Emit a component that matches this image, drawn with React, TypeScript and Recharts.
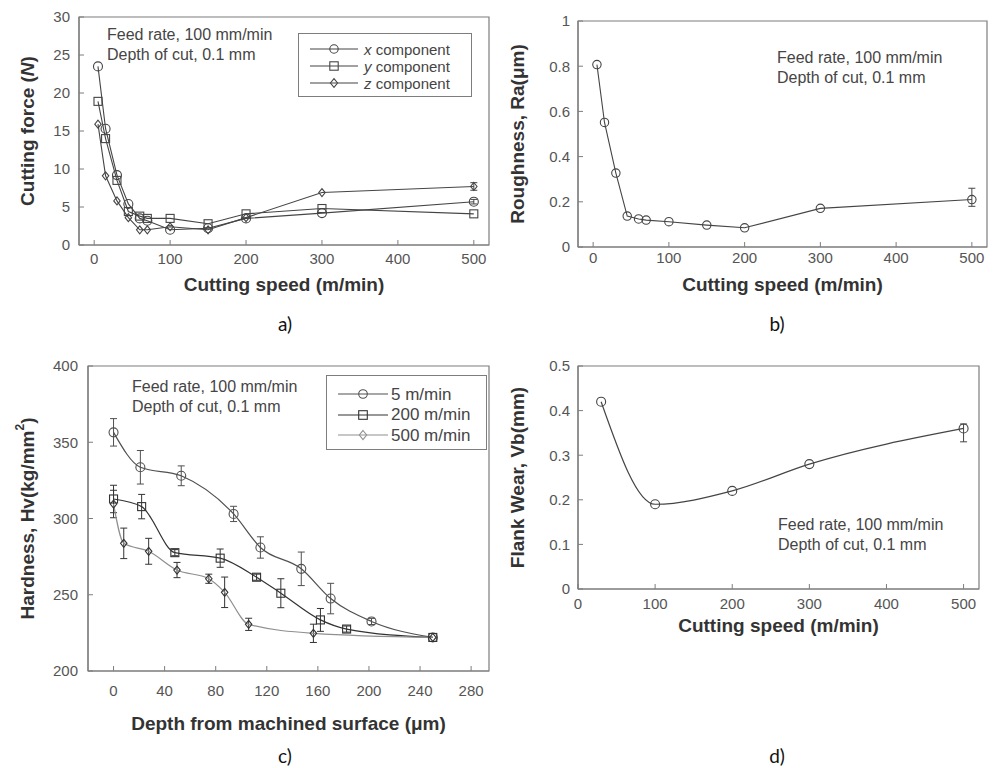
import React from "react";
import { LineChart, Line, XAxis, YAxis, ErrorBar, ReferenceArea, Legend, Label } from "recharts";

// a) cutting force vs cutting speed
const speeds = [5, 15, 30, 45, 60, 70, 100, 150, 200, 300, 500];
const forceX = [23.5, 15.3, 9.2, 5.4, 3.5, 3.2, 2.0, 2.2, 3.5, 4.2, 5.7];
const forceY = [18.9, 14.0, 8.5, 4.4, 3.8, 3.5, 3.5, 2.8, 4.1, 4.8, 4.1];
const forceZ = [15.9, 9.1, 5.8, 3.6, 2.0, 2.0, 2.4, 2.0, 3.6, 6.9, 7.7];
const forceXErr = [0, 0, 0, 0, 0, 0, 0, 0, 0, 0, 0.3];
const forceZErr = [0, 0, 0, 0, 0, 0, 0, 0, 0, 0, 0.5];

// b) roughness vs cutting speed
const roughness = [0.807, 0.551, 0.327, 0.137, 0.124, 0.119, 0.112, 0.097, 0.085, 0.171, 0.21];
const roughnessErr: any[] = [0, 0, 0, 0, 0, 0, 0, 0, 0, 0, [0.03, 0.05]];

// c) hardness vs depth
const depth5 = [0, 21, 53, 94, 115, 147, 170, 202, 250];
const hard5 = [356.5, 333.6, 328, 303, 281, 267, 247.5, 232.5, 222];
const hard5Err = [9, 11, 6.5, 5, 7, 11, 10, 2, 0];
const depth200 = [0, 22, 48, 83.5, 112, 131, 162, 182.5, 250];
const hard200 = [312.8, 307.8, 277.6, 274, 261.5, 251, 233.5, 227.5, 222];
const hard200Err = [9, 8, 2, 6, 2, 9.5, 7.5, 2, 0];
const depth500 = [0, 8, 27.5, 49.7, 74.6, 87, 105.8, 156.5, 250];
const hard500 = [309.5, 283.7, 278.5, 266.2, 260.5, 251.6, 230.6, 224.7, 222];
const hard500Err = [9, 10, 8.5, 5, 3, 10, 4, 6, 0];

// d) flank wear vs cutting speed
const speedsD = [30, 100, 200, 300, 500];
const wear = [0.42, 0.19, 0.22, 0.28, 0.36];
const wearErr: any[] = [0, 0, 0, 0, [0.03, 0.01]];

const speedTicks = [0, 100, 200, 300, 400, 500];
const forceTicks = [0, 5, 10, 15, 20, 25, 30];
const roughTicks = [0, 0.2, 0.4, 0.6, 0.8, 1];
const depthTicks = [0, 40, 80, 120, 160, 200, 240, 280];
const hardTicks = [200, 250, 300, 350, 400];
const wearTicks = [0, 0.1, 0.2, 0.3, 0.4, 0.5];

const tableA = speeds.map((s, i) => ({ speed: s, fx: forceX[i], fy: forceY[i], fz: forceZ[i], ex: forceXErr[i], ez: forceZErr[i] }));
const tableB = speeds.map((s, i) => ({ speed: s, ra: roughness[i], e: roughnessErr[i] }));
const rows5 = depth5.map((d, i) => ({ d, hv: hard5[i], e: hard5Err[i] }));
const rows200 = depth200.map((d, i) => ({ d, hv: hard200[i], e: hard200Err[i] }));
const rows500 = depth500.map((d, i) => ({ d, hv: hard500[i], e: hard500Err[i] }));
const tableD = speedsD.map((s, i) => ({ speed: s, vb: wear[i], e: wearErr[i] }));

const FONT = '"Liberation Sans", Arial, Helvetica, sans-serif';
const AXIS = "#7d7d7d";
const INK = "#454545";
const TICK = { fill: "#555", fontSize: 15, fontFamily: FONT };
const TITLE: React.CSSProperties = { fill: "#333", fontSize: 19, fontWeight: 700, fontFamily: FONT };

type Shape = "circle" | "square" | "diamond";

function Marker({ shape, cx, cy, color, size }: { shape: Shape; cx: number; cy: number; color: string; size: number }) {
  if (cx == null || cy == null) return null;
  if (shape === "circle") return <circle cx={cx} cy={cy} r={size} fill="none" stroke={color} strokeWidth={1.1} />;
  if (shape === "square")
    return <rect x={cx - size} y={cy - size} width={size * 2} height={size * 2} fill="none" stroke={color} strokeWidth={1.1} />;
  const w = size * 0.85, h = size * 1.05;
  return <path d={`M${cx},${cy - h}L${cx + w},${cy}L${cx},${cy + h}L${cx - w},${cy}Z`} fill="none" stroke={color} strokeWidth={1.1} />;
}

const dot = (shape: Shape, color: string, size: number) => (p: any) =>
  <Marker key={`m-${p.index}`} shape={shape} cx={p.cx} cy={p.cy} color={color} size={size} />;

function frame(o: {
  xKey: string; xDomain: number[]; yDomain: number[]; xTicks: number[]; yTicks: number[];
  xH: number; yW: number; xTM: number; yTM: number; xLabel: React.ReactNode; xLabelY: number; yLabel: React.ReactNode;
}) {
  return [
    <XAxis key="x" dataKey={o.xKey} type="number" domain={o.xDomain} ticks={o.xTicks} interval={0} allowDataOverflow
      height={o.xH} tickSize={-5} tickMargin={o.xTM} tick={TICK} tickLine={{ stroke: AXIS }} axisLine={{ stroke: AXIS, strokeWidth: 1.2 }}>
      <Label content={(p: any) => (
        <text x={p.viewBox.x + p.viewBox.width / 2} y={o.xLabelY} textAnchor="middle" dominantBaseline="central" style={TITLE}>{o.xLabel}</text>
      )} />
    </XAxis>,
    <YAxis key="y" type="number" domain={o.yDomain} ticks={o.yTicks} interval={0} allowDataOverflow
      width={o.yW} tickSize={-5} tickMargin={o.yTM} tick={TICK} tickLine={{ stroke: AXIS }} axisLine={{ stroke: AXIS, strokeWidth: 1.2 }}>
      <Label content={(p: any) => {
        const cy = p.viewBox.y + p.viewBox.height / 2;
        return (
          <text x={27} y={cy} transform={`rotate(-90 27 ${cy})`} textAnchor="middle" dominantBaseline="central" style={TITLE}>{o.yLabel}</text>
        );
      }} />
    </YAxis>,
    <ReferenceArea key="box" x1={o.xDomain[0]} x2={o.xDomain[1]} y1={o.yDomain[0]} y2={o.yDomain[1]}
      fill="none" stroke={AXIS} strokeWidth={1.2} fillOpacity={0} ifOverflow="visible" />,
  ];
}

type Row = { name: string; label: React.ReactNode; shape: Shape; color: string };

function legendBox(rows: Row[], o: { w: number; h: number; first: number; rowH: number; x1: number; x2: number; textX: number; fontSize: number; size: number }) {
  return (props: any) => {
    const payload = props.payload || [];
    // keep the series order of the figure, not the legend's sorted order
    const shown = rows.filter((r) => payload.length === 0 || payload.some((e: any) => e.value === r.name));
    return (
      <div style={{ width: o.w, height: o.h, boxSizing: "border-box", border: `1.5px solid ${AXIS}`, background: "#fff", position: "relative", fontFamily: FONT, fontSize: o.fontSize, color: INK }}>
        {shown.map((row, i) => {
          const cy = o.first + o.rowH * i;
          return (
            <div key={row.name} style={{ position: "absolute", left: 0, top: cy - 8, height: 16, display: "flex", alignItems: "center" }}>
              <svg width={o.textX} height={16} style={{ flex: "none" }}>
                <line x1={o.x1} x2={o.x2} y1={8} y2={8} stroke={row.color} strokeWidth={1.2} />
                <Marker shape={row.shape} cx={(o.x1 + o.x2) / 2} cy={8} color={row.color} size={o.size} />
              </svg>
              <span style={{ lineHeight: 1, whiteSpace: "nowrap" }}>{row.label}</span>
            </div>
          );
        })}
      </div>
    );
  };
}

const rowsA: Row[] = [
  { name: "x component", label: <><i>x</i> component</>, shape: "circle", color: INK },
  { name: "y component", label: <><i>y</i> component</>, shape: "square", color: INK },
  { name: "z component", label: <><i>z</i> component</>, shape: "diamond", color: INK },
];
const C5 = "#505050", C200 = "#333", C500 = "#8f8f8f";
const rowsC: Row[] = [
  { name: "5 m/min", label: "5 m/min", shape: "circle", color: C5 },
  { name: "200 m/min", label: "200 m/min", shape: "square", color: C200 },
  { name: "500 m/min", label: "500 m/min", shape: "diamond", color: C500 },
];

const note: React.CSSProperties = { position: "absolute", fontFamily: FONT, fontSize: 16, lineHeight: "20px", color: INK, whiteSpace: "nowrap" };
const cap: React.CSSProperties = { position: "absolute", fontFamily: "Lato, 'Open Sans', sans-serif", fontSize: 19, color: "#111", transform: "translate(-50%, -50%)" };

function Note({ left, top }: { left: number; top: number }) {
  return (
    <div style={{ ...note, left, top }}>
      Feed rate, 100 mm/min<br />Depth of cut, 0.1 mm
    </div>
  );
}

export default function App() {
  return (
    <div style={{ position: "absolute", left: 0, top: 0, width: 995, height: 768, background: "#fff", overflow: "hidden" }}>
      {/* a) */}
      <div style={{ position: "absolute", left: 0, top: 0 }}>
        <LineChart width={495} height={300} data={tableA} margin={{ top: 17, right: 6, left: 0, bottom: 0 }}>
          {frame({
            xKey: "speed", xDomain: [-20, 520], yDomain: [0, 30], xTicks: speedTicks, yTicks: forceTicks,
            xH: 55, yW: 79, xTM: 13, yTM: 14, xLabel: "Cutting speed (m/min)", xLabelY: 284,
            yLabel: <>Cutting force (<tspan fontStyle="italic">N</tspan>)</>,
          })}
          <Line name="x component" dataKey="fx" type="linear" stroke={INK} strokeWidth={1.1} dot={dot("circle", INK, 4.5)} activeDot={false} isAnimationActive={false}>
            <ErrorBar dataKey="ex" width={3.5} stroke={INK} strokeWidth={1} isAnimationActive={false} />
          </Line>
          <Line name="y component" dataKey="fy" type="linear" stroke={INK} strokeWidth={1.1} dot={dot("square", INK, 4)} activeDot={false} isAnimationActive={false} />
          <Line name="z component" dataKey="fz" type="linear" stroke={INK} strokeWidth={1.1} dot={dot("diamond", INK, 3.8)} activeDot={false} isAnimationActive={false}>
            <ErrorBar dataKey="ez" width={3.5} stroke={INK} strokeWidth={1} isAnimationActive={false} />
          </Line>
          <Legend layout="vertical" align="center" verticalAlign="middle" wrapperStyle={{ left: 298, top: 33, width: 174, height: 64 }}
            content={legendBox(rowsA, { w: 174, h: 64, first: 15, rowH: 17, x1: 11, x2: 59, textX: 65, fontSize: 15, size: 4.2 })} />
        </LineChart>
      </div>

      {/* b) */}
      <div style={{ position: "absolute", left: 490, top: 0 }}>
        <LineChart width={505} height={300} data={tableB} margin={{ top: 21, right: 8, left: 0, bottom: 0 }}>
          {frame({
            xKey: "speed", xDomain: [-20, 520], yDomain: [0, 1], xTicks: speedTicks, yTicks: roughTicks,
            xH: 53, yW: 88, xTM: 10, yTM: 13, xLabel: "Cutting speed (m/min)", xLabelY: 284,
            yLabel: "Roughness, Ra(\u03bcm)",
          })}
          <Line name="Ra" dataKey="ra" type="linear" stroke={INK} strokeWidth={1.1} dot={dot("circle", INK, 4.2)} activeDot={false} isAnimationActive={false}>
            <ErrorBar dataKey="e" width={3.5} stroke={INK} strokeWidth={1} isAnimationActive={false} />
          </Line>
        </LineChart>
      </div>

      {/* c) */}
      <div style={{ position: "absolute", left: 0, top: 340 }}>
        <LineChart width={495} height={428} margin={{ top: 26, right: 6, left: 0, bottom: 27 }}>
          {frame({
            xKey: "d", xDomain: [-20, 294], yDomain: [200, 400], xTicks: depthTicks, yTicks: hardTicks,
            xH: 70, yW: 88, xTM: 19, yTM: 15, xLabel: "Depth from machined surface (\u03bcm)", xLabelY: 383,
            yLabel: <>Hardness, Hv(kg/mm<tspan dy={-7} fontSize={12}>2</tspan><tspan dy={7}>)</tspan></>,
          })}
          <Line name="5 m/min" data={rows5} dataKey="hv" type="monotone" stroke={C5} strokeWidth={1.2} dot={dot("circle", C5, 4.5)} activeDot={false} isAnimationActive={false}>
            <ErrorBar dataKey="e" width={3.5} stroke={C5} strokeWidth={1} isAnimationActive={false} />
          </Line>
          <Line name="200 m/min" data={rows200} dataKey="hv" type="monotone" stroke={C200} strokeWidth={1.2} dot={dot("square", C200, 4)} activeDot={false} isAnimationActive={false}>
            <ErrorBar dataKey="e" width={3.5} stroke={C200} strokeWidth={1} isAnimationActive={false} />
          </Line>
          <Line name="500 m/min" data={rows500} dataKey="hv" type="monotone" stroke={C500} strokeWidth={1.2} dot={dot("diamond", C200, 3.8)} activeDot={false} isAnimationActive={false}>
            <ErrorBar dataKey="e" width={3.5} stroke={C200} strokeWidth={1} isAnimationActive={false} />
          </Line>
          <Legend layout="vertical" align="center" verticalAlign="middle" wrapperStyle={{ left: 326, top: 35, width: 161, height: 75 }}
            content={legendBox(rowsC, { w: 161, h: 75, first: 18, rowH: 20.5, x1: 11, x2: 61, textX: 64, fontSize: 17, size: 4.3 })} />
        </LineChart>
      </div>

      {/* d) */}
      <div style={{ position: "absolute", left: 490, top: 340 }}>
        <LineChart width={495} height={300} data={tableD} margin={{ top: 26, right: 6, left: 0, bottom: 0 }}>
          {frame({
            xKey: "speed", xDomain: [0, 520], yDomain: [0, 0.5], xTicks: speedTicks, yTicks: wearTicks,
            xH: 51, yW: 88, xTM: 14, yTM: 13, xLabel: "Cutting speed (m/min)", xLabelY: 285,
            yLabel: "Flank Wear, Vb(mm)",
          })}
          <Line name="Vb" dataKey="vb" type="monotone" stroke={INK} strokeWidth={1.2} dot={dot("circle", INK, 4.5)} activeDot={false} isAnimationActive={false}>
            <ErrorBar dataKey="e" width={3.5} stroke={INK} strokeWidth={1} isAnimationActive={false} />
          </Line>
        </LineChart>
      </div>

      <Note left={107} top={25} />
      <Note left={777} top={48} />
      <Note left={132} top={377} />
      <Note left={778} top={515} />

      <div style={{ ...cap, left: 285, top: 323 }}>a)</div>
      <div style={{ ...cap, left: 777, top: 323 }}>b)</div>
      <div style={{ ...cap, left: 285, top: 755 }}>c)</div>
      <div style={{ ...cap, left: 777, top: 755 }}>d)</div>
    </div>
  );
}
